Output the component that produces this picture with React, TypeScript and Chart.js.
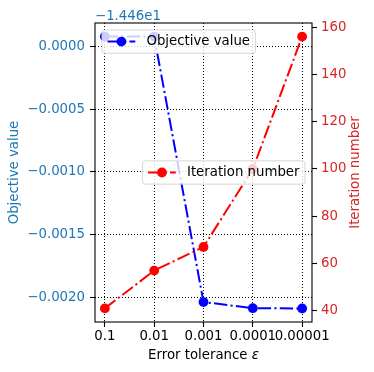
import React, { useEffect, useRef } from "react";
import { Chart, registerables } from "chart.js";

Chart.register(...registerables);

const categories = ["0.1", "0.01", "0.001", "0.0001", "0.00001"];
const OFFSET = -14.46;
const objectiveValues = [-14.459922, -14.459922, -14.462037, -14.462086, -14.462088];
const iterationValues = [41, 57, 67, 100, 156];
const leftTickDeltas = [0, -0.0005, -0.001, -0.0015, -0.002];
const rightTicks = [40, 60, 80, 100, 120, 140, 160];

const FONT = "'DejaVu Sans', sans-serif";
const FS = 13.3;
const LFS = 13.9;
const BLUE_TXT = "#1f77b4";
const RED_TXT = "#d62728";
const DASHDOT = [13.3, 3.3, 2.1, 3.3];

function legendWidth(ctx: CanvasRenderingContext2D, label: string) {
  ctx.save();
  ctx.font = `${FS}px ${FONT}`;
  const tw = ctx.measureText(label).width;
  ctx.restore();
  return 0.4 * LFS * 2 + 2 * LFS + 0.8 * LFS + tw;
}

function drawLegend(ctx: CanvasRenderingContext2D, left: number, top: number, color: string, label: string) {
  const pad = 0.4 * LFS;
  const handleLen = 2 * LFS;
  const textPad = 0.8 * LFS;
  const w = legendWidth(ctx, label);
  const h = 23.3;
  const r = 2.8;
  ctx.save();
  ctx.font = `${FS}px ${FONT}`;
  ctx.beginPath();
  ctx.moveTo(left + r, top);
  ctx.lineTo(left + w - r, top);
  ctx.arcTo(left + w, top, left + w, top + r, r);
  ctx.lineTo(left + w, top + h - r);
  ctx.arcTo(left + w, top + h, left + w - r, top + h, r);
  ctx.lineTo(left + r, top + h);
  ctx.arcTo(left, top + h, left, top + h - r, r);
  ctx.lineTo(left, top + r);
  ctx.arcTo(left, top, left + r, top, r);
  ctx.closePath();
  ctx.fillStyle = "rgba(255,255,255,0.8)";
  ctx.fill();
  ctx.strokeStyle = "rgba(204,204,204,0.8)";
  ctx.lineWidth = 1;
  ctx.stroke();
  const cy = top + h / 2;
  const hx = left + pad;
  ctx.beginPath();
  ctx.setLineDash(DASHDOT);
  ctx.strokeStyle = color;
  ctx.lineWidth = 2;
  ctx.moveTo(hx, cy);
  ctx.lineTo(hx + handleLen, cy);
  ctx.stroke();
  ctx.setLineDash([]);
  ctx.beginPath();
  ctx.fillStyle = color;
  ctx.arc(hx + handleLen / 2, cy, 4.9, 0, Math.PI * 2);
  ctx.fill();
  ctx.fillStyle = "#000";
  ctx.textAlign = "left";
  ctx.textBaseline = "middle";
  ctx.fillText(label, hx + handleLen + textPad, cy);
  ctx.restore();
}

const decorPlugin = {
  id: "decor",
  afterDatasetsDraw(chart: any) {
    const ctx: CanvasRenderingContext2D = chart.ctx;
    const a = chart.chartArea;
    const bax = 0.5 * LFS;
    drawLegend(ctx, a.left + bax, a.top + bax, "#0000ff", "Objective value");
    const w = legendWidth(ctx, "Iteration number");
    drawLegend(ctx, a.right - bax - w, (a.top + a.bottom) / 2 - 23.3 / 2, "#ff0000", "Iteration number");
    ctx.save();
    ctx.strokeStyle = "#000";
    ctx.lineWidth = 1.1;
    ctx.strokeRect(a.left, a.top, a.right - a.left, a.bottom - a.top);
    ctx.restore();
  },
  afterDraw(chart: any) {
    const ctx: CanvasRenderingContext2D = chart.ctx;
    const a = chart.chartArea;
    const midY = (a.top + a.bottom) / 2;
    ctx.save();
    ctx.font = `${FS}px ${FONT}`;
    ctx.fillStyle = BLUE_TXT;
    ctx.textAlign = "left";
    ctx.textBaseline = "alphabetic";
    ctx.fillText("\u22121.446e1", a.left, 20);
    ctx.save();
    ctx.translate(15, midY);
    ctx.rotate(-Math.PI / 2);
    ctx.textAlign = "center";
    ctx.textBaseline = "middle";
    ctx.fillStyle = BLUE_TXT;
    ctx.fillText("Objective value", 0, 0);
    ctx.restore();
    ctx.save();
    ctx.translate(356, midY);
    ctx.rotate(-Math.PI / 2);
    ctx.textAlign = "center";
    ctx.textBaseline = "middle";
    ctx.fillStyle = RED_TXT;
    ctx.fillText("Iteration number", 0, 0);
    ctx.restore();
    const part1 = "Error tolerance ";
    const part2 = "\u03b5";
    ctx.font = `${FS}px ${FONT}`;
    const w1 = ctx.measureText(part1).width;
    ctx.font = `italic ${FS}px ${FONT}`;
    const w2 = ctx.measureText(part2).width;
    const cx = (a.left + a.right) / 2;
    const x0 = cx - (w1 + w2) / 2;
    ctx.fillStyle = "#000";
    ctx.textAlign = "left";
    ctx.textBaseline = "alphabetic";
    ctx.font = `${FS}px ${FONT}`;
    ctx.fillText(part1, x0, 359);
    ctx.font = `italic ${FS}px ${FONT}`;
    ctx.fillText(part2, x0 + w1, 359);
    ctx.restore();
  },
};

export default function App() {
  const ref = useRef<HTMLCanvasElement | null>(null);
  useEffect(() => {
    if (!ref.current) return;
    Chart.defaults.font.family = FONT;
    Chart.defaults.font.size = FS;
    const tickGrid = {
      color: "#000",
      lineWidth: 1,
      tickColor: "#000",
      tickWidth: 1.1,
      tickLength: 5,
      tickBorderDash: [],
    };
    const chart = new Chart(ref.current, {
      type: "line",
      data: {
        datasets: [
          {
            label: "Objective value",
            data: objectiveValues.map((v, i) => ({ x: i, y: v })),
            yAxisID: "y",
            borderColor: "#0000ff",
            backgroundColor: "#0000ff",
            borderWidth: 2,
            borderDash: DASHDOT,
            borderJoinStyle: "round",
            pointRadius: 4.9,
            pointBorderWidth: 0,
            pointBackgroundColor: "#0000ff",
            tension: 0,
            order: 2,
          },
          {
            label: "Iteration number",
            data: iterationValues.map((v, i) => ({ x: i, y: v })),
            yAxisID: "y1",
            borderColor: "#ff0000",
            backgroundColor: "#ff0000",
            borderWidth: 2,
            borderDash: DASHDOT,
            borderJoinStyle: "round",
            pointRadius: 4.9,
            pointBorderWidth: 0,
            pointBackgroundColor: "#ff0000",
            tension: 0,
            order: 1,
          },
        ],
      },
      options: {
        animation: false,
        responsive: false,
        devicePixelRatio: 1,
        layout: { padding: { top: 23, left: 0, right: 0, bottom: 0 } },
        plugins: { legend: { display: false }, tooltip: { enabled: false } },
        scales: {
          x: {
            type: "linear",
            min: -0.2,
            max: 4.2,
            afterBuildTicks: (s: any) => {
              s.ticks = categories.map((_, i) => ({ value: i }));
            },
            afterFit: (s: any) => {
              s.height = 50;
            },
            ticks: {
              color: "#000",
              padding: 2,
              autoSkip: false,
              maxRotation: 0,
              minRotation: 0,
              callback: (v: any) => categories[Math.round(Number(v))] ?? "",
            },
            grid: { ...tickGrid },
            border: { display: false, dash: [1, 2] },
          },
          y: {
            type: "linear",
            position: "left",
            min: OFFSET - 0.002196,
            max: OFFSET + 0.000186,
            afterBuildTicks: (s: any) => {
              s.ticks = leftTickDeltas.map((d) => ({ value: OFFSET + d }));
            },
            afterFit: (s: any) => {
              s.width = 95;
            },
            ticks: {
              color: BLUE_TXT,
              padding: 5,
              callback: (v: any) => {
                let d = Number(v) - OFFSET;
                if (Math.abs(d) < 1e-9) d = 0;
                const s = Math.abs(d).toFixed(4);
                return d < 0 ? "\u2212" + s : s;
              },
            },
            grid: { ...tickGrid },
            border: { display: false, dash: [1, 2] },
          },
          y1: {
            type: "linear",
            position: "right",
            min: 35.25,
            max: 161.75,
            afterBuildTicks: (s: any) => {
              s.ticks = rightTicks.map((v) => ({ value: v }));
            },
            afterFit: (s: any) => {
              s.width = 62;
            },
            ticks: {
              color: RED_TXT,
              padding: 4,
              callback: (v: any) => String(v),
            },
            grid: { ...tickGrid, drawOnChartArea: false },
            border: { display: false },
          },
        },
      } as any,
      plugins: [decorPlugin],
    });
    return () => chart.destroy();
  }, []);
  return (
    <div style={{ position: "fixed", left: 0, top: 0, width: 374, height: 372, background: "#fff" }}>
      <canvas ref={ref} width={374} height={372} style={{ width: 374, height: 372, display: "block" }} />
    </div>
  );
}
